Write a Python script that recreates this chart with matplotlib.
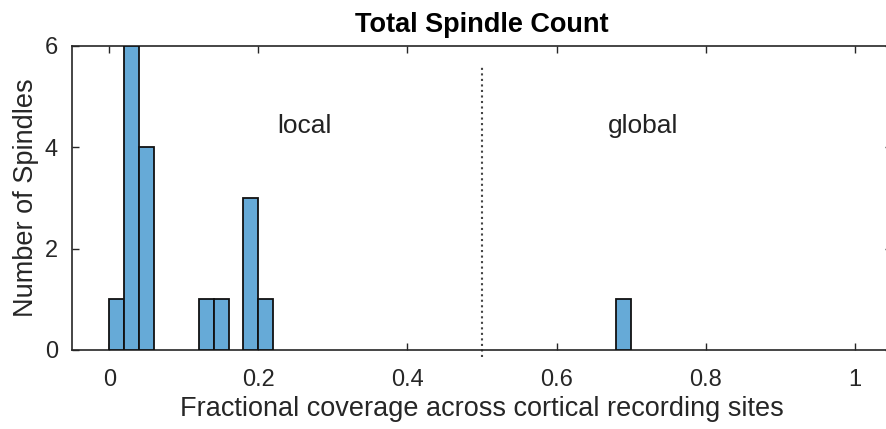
import numpy as np
import matplotlib
matplotlib.use('Agg')
import matplotlib.pyplot as plt

plt.rcParams['font.family'] = ['Liberation Sans', 'DejaVu Sans']

# histogram bins (left edges) and counts
bin_edges = np.round(np.arange(0, 0.72, 0.02), 2)
counts = [1, 6, 4, 0, 0, 0, 1, 1, 0, 3, 1, 0, 0, 0, 0, 0, 0, 0,
          0, 0, 0, 0, 0, 0, 0, 0, 0, 0, 0, 0, 0, 0, 0, 0, 1]
bin_width = 0.02
split_x = 0.5
region_labels = ['local', 'global']
region_x = [0.262, 0.716]
region_y = 4.42
x_ticks = [0, 0.2, 0.4, 0.6, 0.8, 1]
x_ticklabels = ['0', '0.2', '0.4', '0.6', '0.8', '1']
y_ticks = [0, 2, 4, 6]

fig = plt.figure(figsize=(8.87, 4.29), dpi=100)
ax = fig.add_axes([72 / 887, 1 - 350 / 429, (892 - 72) / 887, (350 - 46) / 429])

left = bin_edges[:len(counts)]
mask = np.array(counts) > 0
ax.bar(left[mask], np.array(counts)[mask], width=bin_width, align='edge',
       color='#66AAD7', edgecolor='#111111', linewidth=1.3, zorder=3)

ax.plot([split_x, split_x], [-0.14, 5.58], linestyle=':', color='#444444',
        linewidth=1.5, clip_on=False, zorder=2)

for lab, x in zip(region_labels, region_x):
    ax.text(x, region_y, lab, ha='center', va='center', fontsize=19, color='#222222')

ax.set_xlim(-0.05, 1.05)
ax.set_ylim(0, 6)
ax.set_xticks(x_ticks)
ax.set_xticklabels(x_ticklabels)
ax.set_yticks(y_ticks)
ax.tick_params(direction='in', top=True, right=True, length=5, width=1,
               colors='#262626', labelsize=17)
ax.tick_params(axis='x', pad=14)
ax.tick_params(axis='y', pad=10)
for s in ax.spines.values():
    s.set_color('#262626')
    s.set_linewidth(1.2)

ax.set_title('Total Spindle Count', fontsize=19.5, fontweight='bold', pad=10)
ax.set_xlabel('Fractional coverage across cortical recording sites', fontsize=19.5,
              color='#262626', labelpad=3)
ax.set_ylabel('Number of Spindles', fontsize=19.5, color='#262626', labelpad=4)

fig.savefig('out.png', dpi=100)
